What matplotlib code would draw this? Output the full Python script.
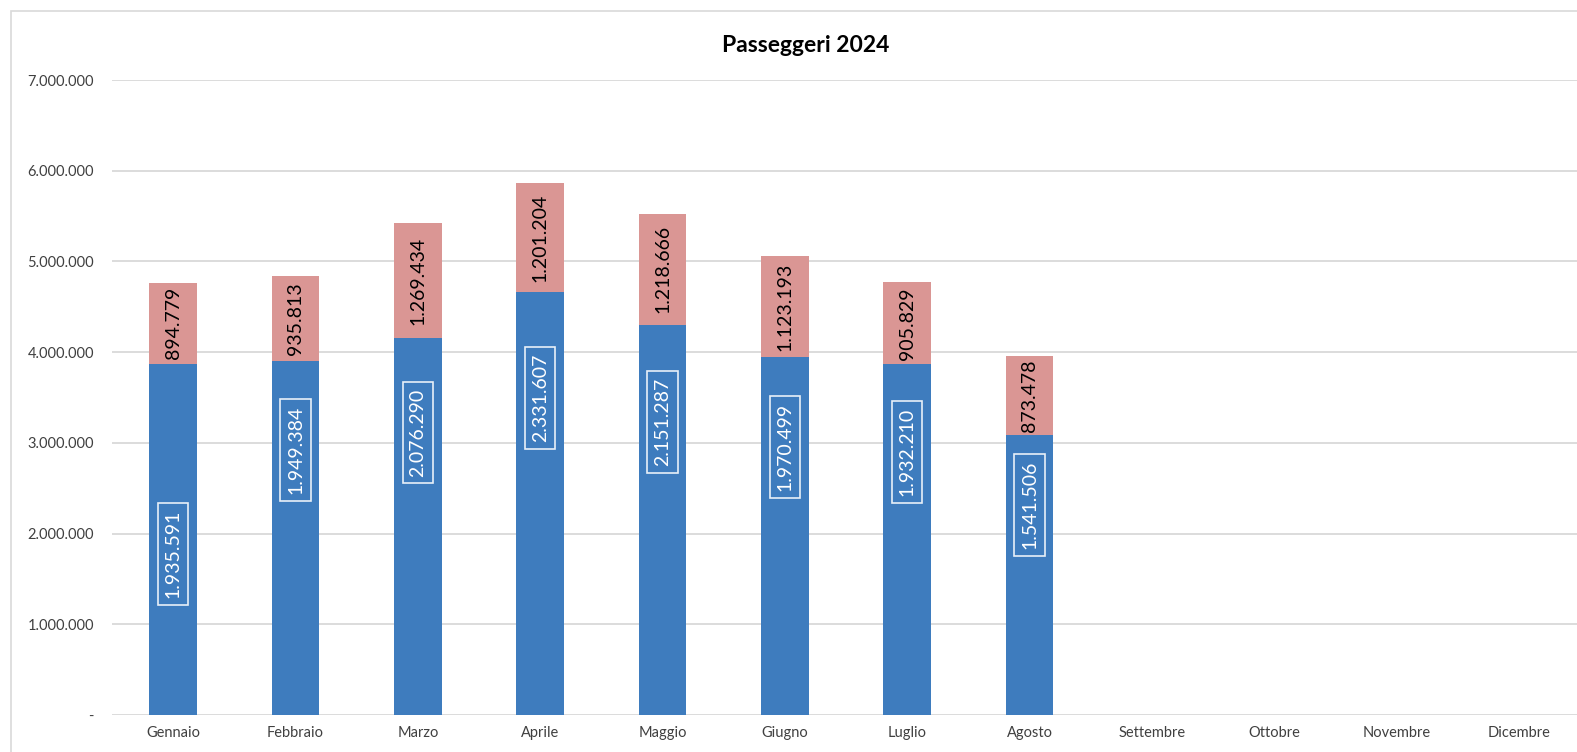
import numpy as np
import matplotlib.pyplot as plt
from matplotlib.patches import Rectangle
from matplotlib.ticker import FuncFormatter

plt.rcParams['font.family'] = ['Lato', 'DejaVu Sans']

mesi = ["Gennaio", "Febbraio", "Marzo", "Aprile", "Maggio", "Giugno",
        "Luglio", "Agosto", "Settembre", "Ottobre", "Novembre", "Dicembre"]
# valori etichettati (serie blu), il segmento blu compare due volte impilato
blu = [1935591, 1949384, 2076290, 2331607, 2151287, 1970499, 1932210, 1541506]
rosa = [894779, 935813, 1269434, 1201204, 1218666, 1123193, 905829, 873478]

BLU = '#3E7CBE'
ROSA = '#DA9694'
GRIGIO = '#D9D9D9'

fig = plt.figure(figsize=(15.77, 7.52), dpi=100)
ax = fig.add_axes([112 / 1577, 37 / 752, 1468 / 1577, 635 / 752])

# cornice dell'area grafico
fig.patches.append(Rectangle((11 / 1577, -0.1), 1.2, 1 - 11 / 752 + 0.1,
                             transform=fig.transFigure, fill=False,
                             edgecolor=GRIGIO, linewidth=1.2))

x = np.arange(len(blu))
w = 0.39
b1 = np.array(blu)
ax.bar(x, b1, w, color=BLU, zorder=2)
ax.bar(x, b1, w, bottom=b1, color=BLU, zorder=2)
ax.bar(x, rosa, w, bottom=2 * b1, color=ROSA, zorder=2)

# etichetta di Gennaio spostata a mano nell'originale
spost = {0: -1.13e6}

def fmt(v):
    return f"{v:,}".replace(",", ".")

for i in range(len(blu)):
    yb = 1.5 * blu[i] + spost.get(i, 0)
    ax.text(x[i], yb, fmt(blu[i]), rotation=90, ha='center', va='center',
            color='white', fontsize=14, zorder=3,
            bbox=dict(boxstyle='square,pad=0.35', facecolor='none',
                      edgecolor='#E8F0F8', linewidth=1.2))
    yr = 2 * blu[i] + rosa[i] / 2
    ax.text(x[i], yr, fmt(rosa[i]), rotation=90, ha='center', va='center',
            color='black', fontsize=14, zorder=3)

ax.set_xlim(-0.5, 11.5)
ax.set_ylim(0, 7000000)
ax.set_xticks(range(12))
ax.set_xticklabels(mesi)
ax.set_yticks(np.arange(0, 7000001, 1000000))
ax.yaxis.set_major_formatter(FuncFormatter(lambda v, p: "-" if v == 0 else fmt(int(v))))
ax.tick_params(axis='both', length=0, labelsize=10.5, labelcolor='#404040')
ax.tick_params(axis='y', pad=13)
ax.tick_params(axis='x', pad=8)
ax.grid(axis='y', color=GRIGIO, linewidth=1.3, zorder=0)
ax.set_axisbelow(True)
for s in ax.spines.values():
    s.set_visible(False)

fig.text(806 / 1577, 1 - 45 / 752, "Passeggeri 2024", ha='center', va='center',
         fontsize=16.5, fontweight='bold', color='black')

fig.savefig("out.png", dpi=100)
